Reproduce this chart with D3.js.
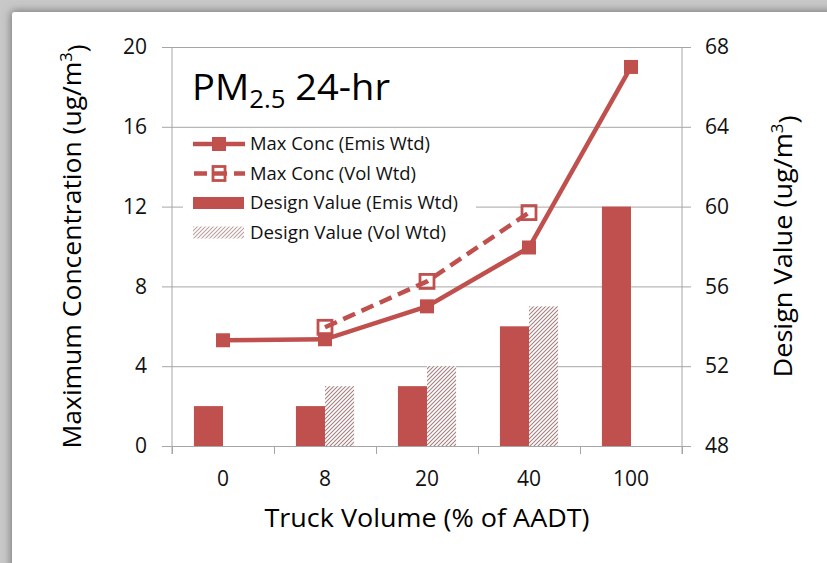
<!DOCTYPE html>
<html>
<head>
<meta charset="utf-8">
<script src="https://cdn.jsdelivr.net/npm/d3@7"></script>
<style>
  html, body { margin: 0; padding: 0; background: #c8c8c8; }
  svg { display: block; font-family: "Open Sans", "Noto Sans", sans-serif; }
</style>
</head>
<body>
<svg id="chart" width="827" height="563"></svg>
<script>
// Truck volume categories (% of AADT)
const categories = ["0", "8", "20", "40", "100"];
// Maximum concentration, ug/m3 (left axis)
const maxConcEmis = [5.3, 5.35, 7.0, 9.95, 19.0];
const maxConcVol  = [null, 5.95, 8.25, 11.7, null];
// Design value, ug/m3 (right axis)
const designEmis = [50, 50, 51, 54, 60];
const designVol  = [null, 51, 52, 55, null];
// Axis ticks
const leftTicks  = [0, 4, 8, 12, 16, 20];
const rightTicks = [48, 52, 56, 60, 64, 68];

const RED = "#c0504d";
const GRID = "#a6a6a6";
const FONT = "Open Sans";
const WEIGHT = 500;

const svg = d3.select("#chart");
const defs = svg.append("defs");

// soft shadow round the white card
const shadow = defs.append("filter").attr("id", "cardShadow")
  .attr("x", "-10%").attr("y", "-10%").attr("width", "120%").attr("height", "120%");
shadow.append("feDropShadow").attr("dx", -1).attr("dy", -1)
  .attr("stdDeviation", 4).attr("flood-color", "#666").attr("flood-opacity", 0.85);

// diagonal hatch for the volume-weighted design value
const hatch = defs.append("pattern").attr("id", "hatch")
  .attr("patternUnits", "userSpaceOnUse").attr("width", 4).attr("height", 4);
hatch.append("rect").attr("width", 4).attr("height", 4).attr("fill", "#ffffff");
hatch.append("path").attr("d", "M-1,1 l2,-2 M0,4 l4,-4 M3,5 l2,-2")
  .attr("stroke", "#a88080").attr("stroke-width", 1.1);

svg.append("rect").attr("x", 0).attr("y", 0).attr("width", 827).attr("height", 563).attr("fill", "#c8c8c8");
svg.append("rect").attr("x", 12).attr("y", 12).attr("width", 840).attr("height", 580)
  .attr("rx", 3).attr("fill", "#ffffff").attr("filter", "url(#cardShadow)");

const plot = { left: 172, right: 682, top: 47, bottom: 446 };

const x = d3.scaleBand().domain(categories).range([plot.left, plot.right]);
const xEdge = d3.scaleLinear().domain([0, categories.length]).range([plot.left, plot.right]);
const yL = d3.scaleLinear().domain([0, 20]).range([plot.bottom, plot.top]);
const yR = d3.scaleLinear().domain([48, 68]).range([plot.bottom, plot.top]);
const barW = x.bandwidth() * 0.285;
const cx = c => x(c) + x.bandwidth() / 2;

const styleText = sel => sel.attr("font-size", 21).attr("fill", "#111")
  .attr("font-family", FONT).attr("font-weight", WEIGHT);

// horizontal gridlines
svg.append("g")
  .attr("transform", `translate(${plot.left},0)`)
  .call(d3.axisLeft(yL).tickValues(leftTicks).tickSize(-(plot.right - plot.left)).tickFormat(""))
  .call(g => g.select(".domain").remove())
  .call(g => g.selectAll("line").attr("stroke", GRID).attr("stroke-width", 1));

// left axis
svg.append("g")
  .attr("transform", `translate(${plot.left},0)`)
  .call(d3.axisLeft(yL).tickValues(leftTicks).tickSize(10).tickPadding(15).tickSizeOuter(0))
  .call(g => g.select(".domain").attr("d", `M0,${plot.top}V${plot.bottom + 8}`).attr("stroke", GRID))
  .call(g => g.selectAll("line").attr("stroke", GRID))
  .call(g => g.selectAll("text").call(styleText));

// right axis
svg.append("g")
  .attr("transform", `translate(${plot.right},0)`)
  .call(d3.axisRight(yR).tickValues(rightTicks).tickSize(9).tickPadding(14).tickSizeOuter(0))
  .call(g => g.select(".domain").attr("d", `M0,${plot.top}V${plot.bottom + 8}`).attr("stroke", GRID))
  .call(g => g.selectAll("line").attr("stroke", GRID))
  .call(g => g.selectAll("text").call(styleText));

// bottom axis: tick marks at the category boundaries
svg.append("g")
  .attr("transform", `translate(0,${plot.bottom})`)
  .call(d3.axisBottom(xEdge).tickValues(d3.range(categories.length + 1)).tickSize(8).tickFormat("").tickSizeOuter(0))
  .call(g => g.select(".domain").attr("stroke", GRID))
  .call(g => g.selectAll("line").attr("stroke", GRID));

// bottom axis: category labels
svg.append("g")
  .attr("transform", `translate(0,${plot.bottom})`)
  .call(d3.axisBottom(x).tickSize(0).tickPadding(25))
  .call(g => g.select(".domain").remove())
  .call(g => g.selectAll("text").call(styleText));

// design value bars (right axis)
svg.append("g").selectAll("rect")
  .data(categories.map((c, i) => ({ c, v: designEmis[i] })).filter(d => d.v != null))
  .join("rect")
  .attr("x", d => cx(d.c) - barW).attr("width", barW)
  .attr("y", d => yR(d.v)).attr("height", d => plot.bottom - yR(d.v))
  .attr("fill", RED);

svg.append("g").selectAll("rect")
  .data(categories.map((c, i) => ({ c, v: designVol[i] })).filter(d => d.v != null))
  .join("rect")
  .attr("x", d => cx(d.c)).attr("width", barW)
  .attr("y", d => yR(d.v)).attr("height", d => plot.bottom - yR(d.v))
  .attr("fill", "url(#hatch)");

// maximum concentration lines (left axis)
const line = d3.line().defined(d => d.v != null).x(d => cx(d.c)).y(d => yL(d.v));
const emisPts = categories.map((c, i) => ({ c, v: maxConcEmis[i] }));
const volPts = categories.map((c, i) => ({ c, v: maxConcVol[i] }));

svg.append("path").datum(volPts).attr("d", line)
  .attr("fill", "none").attr("stroke", RED).attr("stroke-width", 4.5)
  .attr("stroke-dasharray", "13,7");
svg.append("path").datum(emisPts).attr("d", line)
  .attr("fill", "none").attr("stroke", RED).attr("stroke-width", 4.5);

const M = 14;
svg.append("g").selectAll("rect")
  .data(volPts.filter(d => d.v != null)).join("rect")
  .attr("x", d => cx(d.c) - M / 2).attr("y", d => yL(d.v) - M / 2)
  .attr("width", M).attr("height", M)
  .attr("fill", "none").attr("stroke", RED).attr("stroke-width", 2.8);
svg.append("g").selectAll("rect")
  .data(emisPts.filter(d => d.v != null)).join("rect")
  .attr("x", d => cx(d.c) - M / 2).attr("y", d => yL(d.v) - M / 2)
  .attr("width", M).attr("height", M)
  .attr("fill", RED);

// chart title
const title = svg.append("text").attr("x", 192).attr("y", 100)
  .attr("font-size", 37).attr("fill", "#000").attr("font-family", FONT).attr("font-weight", WEIGHT)
  .attr("textLength", 198).attr("lengthAdjust", "spacingAndGlyphs");
title.append("tspan").text("PM");
title.append("tspan").attr("font-size", 25).attr("dy", 8).text("2.5");
title.append("tspan").attr("dy", -8).text(" 24-hr");

// legend
const legend = svg.append("g");
legend.append("rect").attr("x", 183).attr("y", 132).attr("width", 293).attr("height", 112).attr("fill", "#fff");
const legendItems = [
  "Max Conc (Emis Wtd)",
  "Max Conc (Vol Wtd)",
  "Design Value (Emis Wtd)",
  "Design Value (Vol Wtd)"
];
const legendWidths = [180, 166, 208, 196];
const rowY = i => 144 + i * 29.5;
legendItems.forEach((label, i) => {
  const y0 = rowY(i);
  const g = legend.append("g");
  if (i === 0) {
    g.append("line").attr("x1", 193).attr("x2", 245).attr("y1", y0).attr("y2", y0)
      .attr("stroke", RED).attr("stroke-width", 4.5);
    g.append("rect").attr("x", 219 - M / 2).attr("y", y0 - M / 2).attr("width", M).attr("height", M).attr("fill", RED);
  } else if (i === 1) {
    g.append("line").attr("x1", 193).attr("x2", 245).attr("y1", y0).attr("y2", y0)
      .attr("stroke", RED).attr("stroke-width", 4.5).attr("stroke-dasharray", "13,7").attr("stroke-dashoffset", -1);
    g.append("rect").attr("x", 219 - 6).attr("y", y0 - 7).attr("width", 12).attr("height", 14)
      .attr("fill", "none").attr("stroke", RED).attr("stroke-width", 2.8);
  } else if (i === 2) {
    g.append("rect").attr("x", 193).attr("y", y0 - 6).attr("width", 51).attr("height", 12).attr("fill", RED);
  } else {
    g.append("rect").attr("x", 193).attr("y", y0 - 6).attr("width", 51).attr("height", 12)
      .attr("fill", "url(#hatch)").attr("opacity", 0.75);
  }
  g.append("text").attr("x", 250).attr("y", y0 + 6)
    .attr("font-size", 17.5).attr("fill", "#111").attr("font-family", FONT).attr("font-weight", WEIGHT)
    .attr("textLength", legendWidths[i]).attr("lengthAdjust", "spacingAndGlyphs")
    .text(label);
});

// axis titles
const supText = (sel, base) => {
  sel.append("tspan").text(base);
  sel.append("tspan").attr("font-size", "0.62em").attr("dy", "-0.55em").text("3");
  sel.append("tspan").attr("dy", "0.55em").text(")");
};

svg.append("text")
  .attr("transform", `translate(${(plot.left + plot.right) / 2},527)`)
  .attr("text-anchor", "middle").attr("font-size", 25).attr("fill", "#000")
  .attr("font-family", FONT).attr("font-weight", WEIGHT)
  .attr("textLength", 325).attr("lengthAdjust", "spacingAndGlyphs")
  .text("Truck Volume (% of AADT)");

svg.append("text")
  .attr("transform", `translate(81,${(plot.top + plot.bottom) / 2}) rotate(-90)`)
  .attr("text-anchor", "middle").attr("font-size", 25).attr("fill", "#000")
  .attr("font-family", FONT).attr("font-weight", WEIGHT)
  .attr("textLength", 404).attr("lengthAdjust", "spacingAndGlyphs")
  .call(supText, "Maximum Concentration (ug/m");

svg.append("text")
  .attr("transform", `translate(792,${(plot.top + plot.bottom) / 2}) rotate(-90)`)
  .attr("text-anchor", "middle").attr("font-size", 25).attr("fill", "#000")
  .attr("font-family", FONT).attr("font-weight", WEIGHT)
  .attr("textLength", 262).attr("lengthAdjust", "spacingAndGlyphs")
  .call(supText, "Design Value (ug/m");
</script>
</body>
</html>
